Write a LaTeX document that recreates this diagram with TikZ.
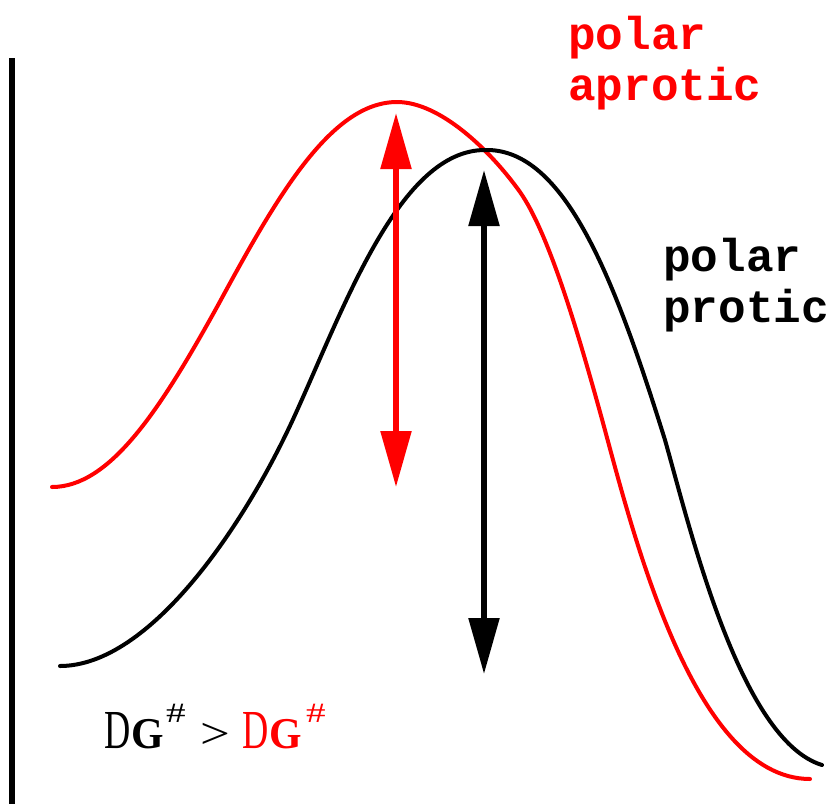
\documentclass[tikz,border=0pt]{standalone}
\usepackage{fontspec}
\setmainfont{Liberation Serif}
\setmonofont{Liberation Mono}
\usetikzlibrary{arrows.meta}
\definecolor{pure red}{RGB}{255,0,0}
\begin{document}
\begin{tikzpicture}[x=1pt,y=-1pt,
  curve/.style={line width=4pt, line join=round, line cap=round},
  dblarrow/.style={line width=5.5pt, {Triangle[length=56pt,width=30pt]}-{Triangle[length=56pt,width=30pt]}},
  solvent/.style={anchor=base west, inner sep=0pt, align=left, font=\fontsize{46}{51}\selectfont\ttfamily\bfseries},
  lab/.style={anchor=base west, inner sep=0pt}
]
\useasboundingbox (0,0) rectangle (838,804);
% axis
\coordinate (axtop) at (12,58);
\coordinate (axbot) at (12,804);
\draw[line width=6pt] (axtop) -- (axbot);
% polar aprotic (red)
\draw[curve, pure red] (52,487) .. controls (110,487) and (160,410) .. (217,307)
  .. controls (275,200) and (330,102) .. (397,102)
  .. controls (440,102) and (490,150) .. (520,192)
  .. controls (550,235) and (580,340) .. (600,412)
  .. controls (630,520) and (690,779) .. (810,779);
% polar protic (black)
\draw[curve, black] (60,666) .. controls (150,666) and (245,525) .. (295,415)
  .. controls (345,305) and (400,150) .. (485,150)
  .. controls (565,148) and (615,280) .. (665,440)
  .. controls (690,528) and (740,740) .. (822,765);
% activation arrows
\coordinate (rtop) at (396,113);
\coordinate (rbot) at (396,487);
\draw[dblarrow, pure red] (rbot) -- (rtop);
\coordinate (btop) at (484,170);
\coordinate (bbot) at (484,674);
\draw[dblarrow, black] (bbot) -- (btop);
% labels
\node[solvent, text=pure red] (aprotic) at (568,100) {polar\\aprotic};
\node[solvent, text=black] (protic) at (663,322) {polar\\protic};
% DG# > DG#
\node[lab] (d1) at (104,748) {\scalebox{0.66}[1]{\fontsize{55}{55}\selectfont D}};
\node[lab] (g1) at (131,748) {\scalebox{0.95}[1]{\fontsize{44}{44}\selectfont\bfseries G}};
\node[lab] (h1) at (166,722) {\scalebox{1.4}[1]{\fontsize{28}{28}\selectfont \#}};
\node[lab] (gt) at (200,748) {\scalebox{1.2}[1]{\fontsize{44}{44}\selectfont >}};
\node[lab, text=pure red] (d2) at (242,748) {\scalebox{0.66}[1]{\fontsize{55}{55}\selectfont D}};
\node[lab, text=pure red] (g2) at (269,748) {\scalebox{0.95}[1]{\fontsize{44}{44}\selectfont\bfseries G}};
\node[lab, text=pure red] (h2) at (306,722) {\scalebox{1.4}[1]{\fontsize{28}{28}\selectfont \#}};
\end{tikzpicture}
\end{document}
